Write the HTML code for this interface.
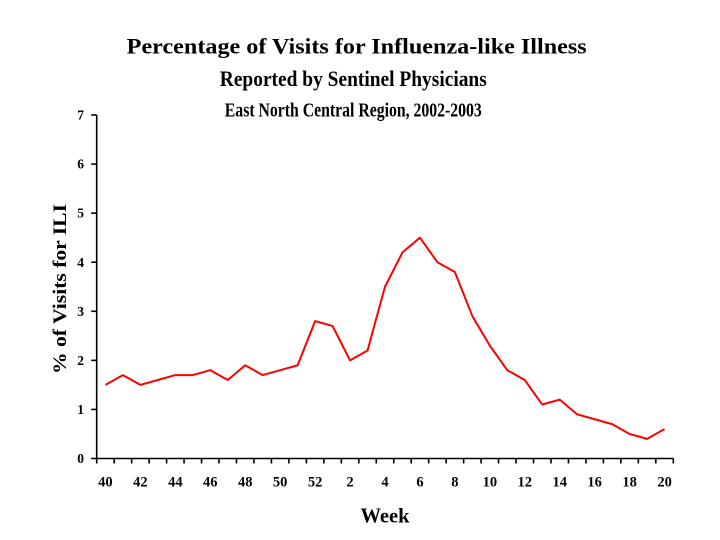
<!DOCTYPE html>
<html><head><meta charset="utf-8"><style>
html,body{margin:0;padding:0;background:#fff;}
svg{display:block;}
text{font-family:"Liberation Serif","Times New Roman",serif;font-weight:bold;fill:#000;}
</style></head><body>
<svg width="720" height="540" viewBox="0 0 720 540" xmlns="http://www.w3.org/2000/svg">
<rect width="720" height="540" fill="#fff"/>
<text x="356.7" y="53.3" font-size="22.5" text-anchor="middle" textLength="460" lengthAdjust="spacingAndGlyphs">Percentage of Visits for Influenza-like Illness</text>
<text x="353.3" y="86" font-size="22.5" text-anchor="middle" textLength="267" lengthAdjust="spacingAndGlyphs">Reported by Sentinel Physicians</text>
<text x="353.3" y="116.7" font-size="20.5" text-anchor="middle" textLength="257" lengthAdjust="spacingAndGlyphs">East North Central Region, 2002-2003</text>
<text transform="translate(66,289) rotate(-90)" font-size="19" text-anchor="middle" textLength="170" lengthAdjust="spacingAndGlyphs">% of Visits for ILI</text>
<text x="385" y="522.7" font-size="21" text-anchor="middle" textLength="49" lengthAdjust="spacingAndGlyphs">Week</text>
<g stroke="#000" stroke-width="1.6" fill="none" id="axes"></g>
<g id="lbl"></g>
<polyline id="series" fill="none" stroke="#ff0000" stroke-width="2" stroke-linejoin="round" points=""/>
</svg>
<script>
(function(){
var NS="http://www.w3.org/2000/svg";
var x0=96.7,x1=673.3,y0=458.5,yTop=115,n=33,dx=(x1-x0)/n,uy=(y0-yTop)/7;
var ax=document.getElementById("axes"),lb=document.getElementById("lbl");
function line(a,b,c,d){var l=document.createElementNS(NS,"line");l.setAttribute("x1",a);l.setAttribute("y1",b);l.setAttribute("x2",c);l.setAttribute("y2",d);ax.appendChild(l);}
function txt(x,y,s,fs,anchor){var t=document.createElementNS(NS,"text");t.setAttribute("x",x);t.setAttribute("y",y);t.setAttribute("font-size",fs);t.setAttribute("text-anchor",anchor);t.textContent=s;lb.appendChild(t);}
line(x0,yTop,x0,y0);line(x0,y0,x1,y0);
for(var i=0;i<=7;i++){var y=y0-i*uy;line(x0-5.5,y,x0,y);txt(84,y+4.6,String(i),13.5,"end");}
for(var k=0;k<=n;k++){var x=x0+k*dx;line(x,y0,x,y0+5);}
var weeks=[];for(var w=40;w<=52;w++)weeks.push(w);for(var w=1;w<=20;w++)weeks.push(w);
for(var j=0;j<n;j++){if(weeks[j]%2===0){txt(x0+(j+0.5)*dx,486.7,String(weeks[j]),14.5,"middle");}}
var v=[1.5,1.7,1.5,1.6,1.7,1.7,1.8,1.6,1.9,1.7,1.8,1.9,2.8,2.7,2.0,2.2,3.5,4.2,4.5,4.0,3.8,2.9,2.3,1.8,1.6,1.1,1.2,0.9,0.8,0.7,0.5,0.4,0.6];
var pts=[];for(var j=0;j<n;j++){pts.push((x0+(j+0.5)*dx).toFixed(2)+","+(y0-v[j]*uy).toFixed(2));}
document.getElementById("series").setAttribute("points",pts.join(" "));
})();
</script>
</body></html>
